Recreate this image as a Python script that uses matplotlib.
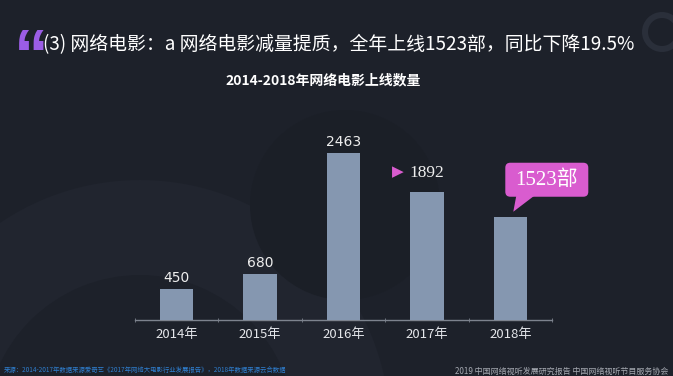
import matplotlib
matplotlib.use("Agg")
import matplotlib.pyplot as plt
from matplotlib.patches import FancyBboxPatch, Polygon, Circle, Wedge
from matplotlib.transforms import IdentityTransform

plt.rcParams['font.family'] = ['Noto Sans CJK SC', 'DejaVu Sans']

categories = ["2014年", "2015年", "2016年", "2017年", "2018年"]
values = [450, 680, 2463, 1892, 1523]
title = "(3) 网络电影：a 网络电影减量提质，全年上线1523部，同比下降19.5%"
subtitle = "2014-2018年网络电影上线数量"
bubble_text = "1523部"
source_text = "来源：2014-2017年数据来源爱奇艺《2017年网络大电影行业发展报告》，2018年数据来源云合数据"
credit_text = "2019 中国网络视听发展研究报告 中国网络视听节目服务协会"

W, H = 673, 376
BG = "#1d212a"
BAR = "#8597b0"
PINK = "#d95ccf"

fig = plt.figure(figsize=(W / 100, H / 100), dpi=100, facecolor=BG)

def fx(x):
    return x / W

def fy(y):
    return 1 - y / H

# background decorations (figure coords)
deco = fig.add_axes([0, 0, 1, 1], zorder=0)
deco.set_xlim(0, W)
deco.set_ylim(H, 0)
deco.axis("off")
deco.set_facecolor(BG)
deco.add_patch(Wedge((140, 430), 250, 0, 360, width=95, facecolor="#21252f", edgecolor="none"))
deco.add_patch(Circle((345, 205), 95, facecolor="#1b1f27", edgecolor="none"))
deco.add_patch(Wedge((662, 32), 20, 0, 360, width=6, facecolor="#2a2f3a", edgecolor="none"))

# bar axes
x0, x1 = 135, 552
base_y = 320
ymax = 3000
px_per_unit = 167 / 2463
ax_h = ymax * px_per_unit
ax = fig.add_axes([fx(x0), (H - base_y) / H, (x1 - x0) / W, ax_h / H], zorder=2)
ax.set_facecolor("none")
xs = list(range(len(categories)))
ax.bar(xs, values, width=0.4, color=BAR, zorder=3)
ax.set_xlim(-0.5, len(categories) - 0.5)
ax.set_ylim(0, ymax)
for s in ["top", "right", "left"]:
    ax.spines[s].set_visible(False)
ax.spines["bottom"].set_color("#7d838e")
ax.spines["bottom"].set_linewidth(1.0)
ax.set_yticks([])
ax.set_xticks(xs)
ax.set_xticklabels(categories, color="#e4e6ea", fontsize=9.5)
ax.tick_params(axis="x", which="major", length=0, pad=6)
ax.set_xticks([i - 0.5 for i in range(len(categories) + 1)], minor=True)
ax.tick_params(axis="x", which="minor", length=3, direction="inout", color="#7d838e")

for i, v in enumerate(values):
    if i == 3:
        ax.annotate(str(v), (i, v), xytext=(0, 8), textcoords="offset points",
                    ha="center", va="bottom", color="#eeeeee", fontsize=12.5,
                    family=["Liberation Serif", "DejaVu Serif"])
        ax.annotate("\u25B6", (i, v), xytext=(-21, 9), textcoords="offset points",
                    ha="center", va="bottom", color=PINK, fontsize=11,
                    family=["DejaVu Sans"])
    elif i == 4:
        pass
    else:
        ax.annotate(str(v), (i, v), xytext=(0, 3), textcoords="offset points",
                    ha="center", va="bottom", color="#eeeeee", fontsize=10,
                    family=["DejaVu Sans"])

# bubble for last bar
bx, by = ax.transData.transform((4, values[4]))
bub = FancyBboxPatch((bx - 5, by + 20), 83, 34, boxstyle="round,pad=0,rounding_size=5",
                     facecolor=PINK, edgecolor="none", transform=IdentityTransform(), zorder=5)
fig.patches.append(bub)
tri = Polygon([(bx + 6, by + 21), (bx + 24, by + 21), (bx + 3, by + 5)], closed=True,
              facecolor=PINK, edgecolor="none", transform=IdentityTransform(), zorder=5)
fig.patches.append(tri)
fig.text((bx - 5 + 41.5) / W, (by + 37) / H, bubble_text, ha="center", va="center",
         color="white", fontsize=15, family=["Liberation Serif", "Noto Sans CJK SC"], zorder=6)

# titles
fig.text(fx(14), fy(59), "\u201C", color="#9b5de5", fontsize=50, fontweight="bold",
         family=["Liberation Sans"], ha="left", va="center")
fig.text(fx(43), fy(45), title, color="white", fontsize=13.6, ha="left", va="center")
fig.text(fx(323), fy(80), subtitle, color="white", fontsize=10, fontweight="bold",
         ha="center", va="center")

# footer
fig.text(fx(4), fy(370), source_text, color="#2f7fd0", fontsize=4.6, ha="left", va="center")
fig.text(fx(668), fy(371), credit_text, color="#a4a8b0", fontsize=5.8, ha="right", va="center")

fig.savefig("out.png", dpi=100, facecolor=BG)
